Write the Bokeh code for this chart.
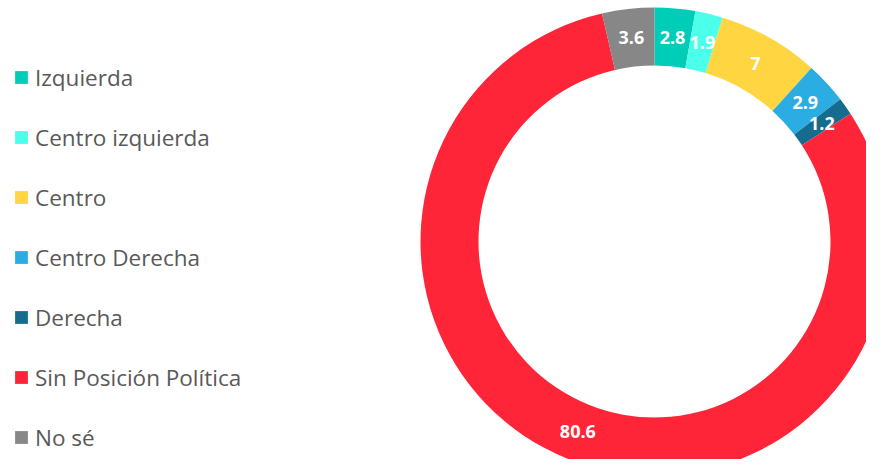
import numpy as np
from bokeh.plotting import figure
from bokeh.models import Range1d, ColumnDataSource, Legend, LegendItem
from bokeh.core.properties import value
from bokeh.embed import file_html
from bokeh.resources import INLINE

categories = ["Izquierda", "Centro izquierda", "Centro", "Centro Derecha",
              "Derecha", "Sin Posición Política", "No sé"]
values = [2.8, 1.9, 7, 2.9, 1.2, 80.6, 3.6]
labels = ["2.8", "1.9", "7", "2.9", "1.2", "80.6", "3.6"]
colors = ["#00CDB8", "#4BFFEB", "#FFD541", "#2BACE2", "#156C8E", "#FF2538", "#878787"]

W, H = 866, 459
# layout (figure pixel coordinates; y measured upward from figure bottom)
CX, CY = 654, H - 241
R_OUT, R_IN = 234, 176
R_LAB = (R_OUT + R_IN) / 2

vals = np.array(values, dtype=float)
frac = vals / vals.sum()
cum_end = np.cumsum(frac)
cum_start = cum_end - frac
start_angle = np.pi / 2 - 2 * np.pi * cum_end
end_angle = np.pi / 2 - 2 * np.pi * cum_start
mid = (start_angle + end_angle) / 2

src = ColumnDataSource(dict(
    cat=categories, color=colors,
    start=start_angle, end=end_angle,
    x=[CX] * len(values), y=[CY] * len(values),
    lx=CX + R_LAB * np.cos(mid), ly=CY + R_LAB * np.sin(mid),
    label=labels,
))

p = figure(width=W, height=H, output_backend="svg", toolbar_location=None,
           x_range=Range1d(0, W), y_range=Range1d(0, H),
           x_axis_location=None, y_axis_location=None, min_border=0)
p.grid.visible = False
p.outline_line_color = None
p.background_fill_color = "white"

r = p.annular_wedge(x="x", y="y", inner_radius=R_IN, outer_radius=R_OUT,
                    start_angle="start", end_angle="end", color="color",
                    line_color=None, source=src)

p.text(x="lx", y="ly", text="label", source=src, text_color="white",
       text_font=value("Open Sans"), text_font_style="bold",
       text_font_size="18px", text_align="center", text_baseline="middle")

items = [LegendItem(label=c, renderers=[r], index=i) for i, c in enumerate(categories)]
legend = Legend(items=items, location=(13, 2), padding=0, margin=0,
                spacing=20, glyph_height=16, glyph_width=16, label_height=40,
                label_standoff=6, label_text_font="Open Sans",
                label_text_font_size="22.5px", label_text_color="#595959",
                border_line_color=None, background_fill_alpha=0)
p.add_layout(legend)

open("out.html", "w").write(file_html(p, INLINE))
